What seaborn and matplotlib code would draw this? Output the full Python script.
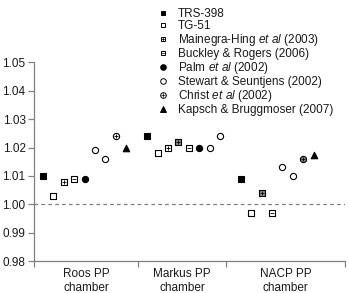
import numpy as np
import pandas as pd
import seaborn as sns
import matplotlib
matplotlib.use("Agg")
import matplotlib.pyplot as plt
from matplotlib.lines import Line2D

# chamber groups and the values read for each study
chambers = ["Roos PP\nchamber", "Markus PP\nchamber", "NACP PP\nchamber"]

roos_sources = ["TRS-398", "TG-51", "Mainegra-Hing", "Buckley", "Palm",
                "Stewart", "Stewart", "Christ", "Kapsch"]
roos_values = [1.010, 1.003, 1.008, 1.009, 1.009, 1.019, 1.016, 1.024, 1.020]

markus_sources = ["TRS-398", "TG-51", "Mainegra-Hing", "Mainegra-Hing alt",
                  "Buckley", "Palm", "Stewart", "Stewart"]
markus_values = [1.024, 1.018, 1.020, 1.022, 1.020, 1.020, 1.020, 1.024]

nacp_sources = ["TRS-398", "TG-51", "Mainegra-Hing alt", "Buckley",
                "Stewart", "Stewart", "Christ alt", "Kapsch"]
nacp_values = [1.009, 0.997, 1.004, 0.997, 1.013, 1.010, 1.016, 1.0175]

legend_keys = ["TRS-398", "TG-51", "Mainegra-Hing", "Buckley", "Palm",
               "Stewart", "Christ", "Kapsch"]
legend_labels = ["TRS-398", "TG-51",
                 "Mainegra-Hing $\\mathit{et\\ al}$ (2003)",
                 "Buckley & Rogers (2006)",
                 "Palm $\\mathit{et\\ al}$ (2002)",
                 "Stewart & Seuntjens (2002)",
                 "Christ $\\mathit{et\\ al}$ (2002)",
                 "Kapsch & Bruggmoser (2007)"]

# marker styles: (marker, facecolor, size, inner mark)
styles = {
    "TRS-398": ("s", "black", 15, None),
    "TG-51": ("s", "white", 15, None),
    "Mainegra-Hing": ("s", "white", 15, "+"),
    "Mainegra-Hing alt": ("s", "#8a8a8a", 15, "+"),
    "Buckley": ("s", "white", 15, "_"),
    "Palm": ("o", "black", 20, None),
    "Stewart": ("o", "white", 20, None),
    "Christ": ("o", "white", 20, "+"),
    "Christ alt": ("o", "#8a8a8a", 20, "+"),
    "Kapsch": ("^", "black", 22, None),
}

sns.set_style("ticks")
plt.rcParams['font.family'] = ['Liberation Sans', 'DejaVu Sans']
plt.rcParams['mathtext.fontset'] = 'custom'
plt.rcParams['mathtext.rm'] = 'Liberation Sans'
plt.rcParams['mathtext.it'] = 'Liberation Sans:italic'
FS = 8.5
TXT = "#1a1a1a"
GREY = "#808080"

# long table, one slot per point, one empty slot between chambers
rows = []
x = 0
for name, srcs, vals in zip(chambers, [roos_sources, markus_sources, nacp_sources],
                            [roos_values, markus_values, nacp_values]):
    for s, v in zip(srcs, vals):
        rows.append({"chamber": name, "source": s, "x": x, "value": v})
        x += 1
    x += 1
df = pd.DataFrame(rows)

fig = plt.figure(figsize=(3.49, 2.93), dpi=100)
ax = fig.add_axes([0.0974, 0.109, 0.891, 0.678])

ax.axhline(1.0, color=GREY, lw=0.9, ls=(0, (3, 2.5)), zorder=1)

for src, (mk, face, size, inner) in styles.items():
    sub = df[df["source"] == src]
    if sub.empty:
        continue
    sns.scatterplot(data=sub, x="x", y="value", marker=mk, s=size,
                    color=face, edgecolor="black", linewidth=0.8, ax=ax, zorder=3)
    if inner is not None:
        ax.scatter(sub["x"], sub["value"], marker=inner, s=size * 0.45,
                   color="black", linewidths=0.6, zorder=4)

ax.set_xlim(-0.86, 29.0)
ax.set_ylim(0.98, 1.05)
ax.set_yticks(np.arange(0.98, 1.0501, 0.01))
ax.set_yticklabels([f"{v:.2f}" for v in np.arange(0.98, 1.0501, 0.01)])
ax.set_xticks([-0.86, 9.15, 17.56, 29.0])
ax.set_xticklabels([])
ax.set_xticks([4.15, 13.35, 23.3], minor=True)
ax.set_xticklabels(chambers, minor=True, fontsize=FS, color=TXT)
ax.tick_params(axis="x", which="minor", length=0, pad=5)
ax.tick_params(axis="both", which="major", length=4, width=0.9, color=GREY,
               labelsize=FS, labelcolor=TXT, pad=2)
ax.set_xlabel("")
ax.set_ylabel("")
sns.despine(ax=ax)
for sp in ["left", "bottom"]:
    ax.spines[sp].set_color(GREY)
    ax.spines[sp].set_linewidth(0.9)

handles = []
for key in legend_keys:
    mk, face, size, inner = styles[key]
    ms = np.sqrt(size) * 0.9
    base = Line2D([], [], ls="none", marker=mk, markersize=ms, markerfacecolor=face,
                  markeredgecolor="black", markeredgewidth=0.7)
    if inner is None:
        handles.append(base)
    else:
        handles.append((base, Line2D([], [], ls="none", marker=inner, markersize=ms * 0.67,
                                     color="black", markeredgewidth=0.5)))

fig.legend(handles, legend_labels, loc="upper left", bbox_to_anchor=(157 / 349, 1 - 8 / 293),
           frameon=False, fontsize=FS, handlelength=1.0, handletextpad=0.75,
           labelspacing=0.0, borderpad=0, borderaxespad=0, labelcolor=TXT)

fig.savefig("out.png", dpi=100)
